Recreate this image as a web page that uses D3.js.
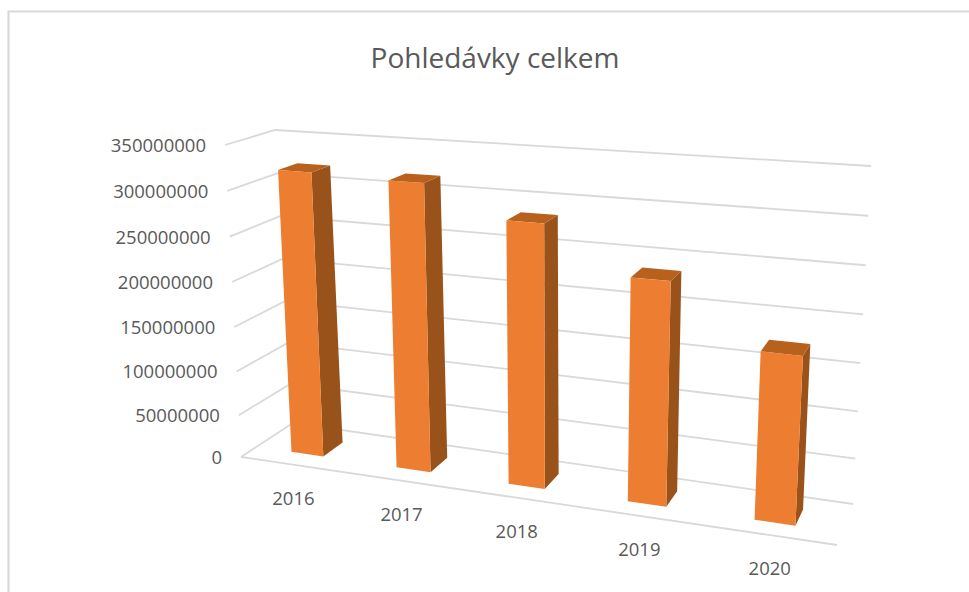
<!DOCTYPE html>
<html><head><meta charset="utf-8">
<script src="https://cdn.jsdelivr.net/npm/d3@7"></script>
<style>html,body{margin:0;padding:0;background:#fff;overflow:hidden}text{font-family:"Open Sans",sans-serif}</style>
</head><body><svg id="c" width="969" height="592"></svg>
<script>
const titleText = "Pohledávky celkem";
const categories = ["2016","2017","2018","2019","2020"];
const values = [320000000,317000000,284000000,236000000,174000000];
const yTicks = [0,50000000,100000000,150000000,200000000,250000000,300000000,350000000];

const floorQuad = [[241,457],[837,545],[853,504],[293,423]];
const topQuad = [[225,145],[856,185],[871,166],[275,130]];
function homography(q){
  const [[x0,y0],[x1,y1],[x2,y2],[x3,y3]] = q;
  const dx1=x1-x2,dx2=x3-x2,sx=x0-x1+x2-x3,dy1=y1-y2,dy2=y3-y2,sy=y0-y1+y2-y3;
  const den=dx1*dy2-dx2*dy1,g=(sx*dy2-dx2*sy)/den,h=(dx1*sy-sx*dy1)/den;
  const a=x1-x0+g*x1,b=x3-x0+h*x3,d=y1-y0+g*y1,e=y3-y0+h*y3;
  return (u,v)=>{const w=g*u+h*v+1;return [(a*u+b*v+x0)/w,(d*u+e*v+y0)/w];};
}
const hFloor=homography(floorQuad), hTop=homography(topQuad);
const xBand=d3.scaleBand().domain(categories).range([0,1]).paddingInner(0.69).paddingOuter(0.345);
const yScale=d3.scalePow().exponent(1.033).domain([0,350000000]).range([0,1]);
const warpU=(u,k)=>u-k*u*(1-u);
function project(u,v,val){
  const a=hFloor(warpU(u,0.114),v),b=hTop(warpU(u,0.067),v),t=yScale(val);
  return [a[0]+(b[0]-a[0])*t,a[1]+(b[1]-a[1])*t];
}
const svg=d3.select("#c");
const gridCol="#d9d9d9", textCol="#595959";
const line=d3.line();
svg.append("path").attr("d",line([[8.5,592],[8.5,11.5],[969,11.5]])).attr("fill","none").attr("stroke",gridCol).attr("stroke-width",2.2);
svg.append("text").attr("x",495).attr("y",68).attr("text-anchor","middle").attr("font-size",28).attr("fill",textCol).text(titleText);
const grid=svg.append("g").attr("fill","none").attr("stroke",gridCol).attr("stroke-width",1.8);
yTicks.forEach(t=>{
  grid.append("path").attr("d",line([project(0,0,t),project(0,1,t),project(1,1,t)]));
});
grid.append("path").attr("d",line([project(0,0,0),project(1,0,0)]));
svg.append("g").selectAll("text").data(yTicks).join("text")
  .attr("x",d=>project(0,0,d)[0]-19).attr("y",d=>project(0,0,d)[1]+7)
  .attr("text-anchor","end").attr("font-size",18.5).attr("fill",textCol).text(d=>d);
const v0=0.29,v1=0.69;
const bars=svg.append("g").selectAll("g").data(categories).join("g");
bars.each(function(c,i){
  const g=d3.select(this),u0=xBand(c),u1=u0+xBand.bandwidth(),val=values[i];
  const poly=(pts,fill)=>g.append("path").attr("d",line(pts)+"Z").attr("fill",fill);
  poly([project(u1,v0,0),project(u1,v1,0),project(u1,v1,val),project(u1,v0,val)],"#9a521b");
  poly([project(u0,v0,val),project(u1,v0,val),project(u1,v1,val),project(u0,v1,val)],"#b8611f");
  poly([project(u0,v0,0),project(u1,v0,0),project(u1,v0,val),project(u0,v0,val)],"#ed7d31");
});
svg.append("g").selectAll("text").data(categories).join("text")
  .attr("x",d=>project(xBand(d)+xBand.bandwidth()/2,0,0)[0]+1)
  .attr("y",d=>project(xBand(d)+xBand.bandwidth()/2,0,0)[1]+40)
  .attr("text-anchor","middle").attr("font-size",18.5).attr("fill",textCol).text(d=>d);
</script></body></html>
